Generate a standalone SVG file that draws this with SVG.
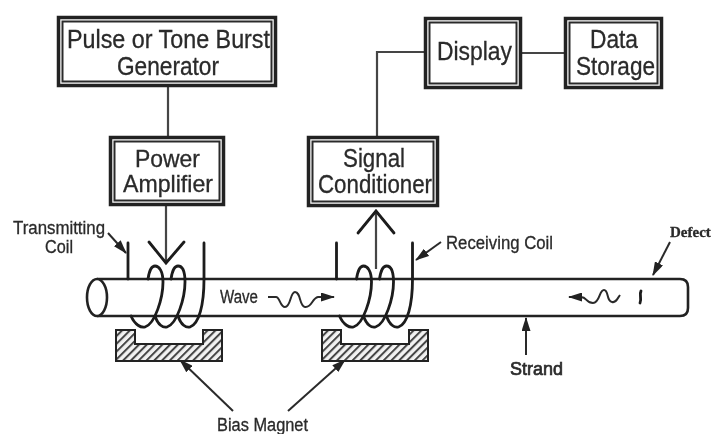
<svg xmlns="http://www.w3.org/2000/svg" width="712" height="434" viewBox="0 0 712 434">
<style>
.o{fill:#fff;stroke:#222;stroke-width:3.500}
.i{fill:#fff;stroke:#2c2c2c;stroke-width:2}
.l{fill:none;stroke:#2a2a2a;stroke-width:2}
.t{fill:none;stroke:#1a1a1a;stroke-width:2.800;stroke-linecap:round}
.g{fill:none;stroke:#444;stroke-width:2.200}
text{font-family:"Liberation Sans",Arial,sans-serif;fill:#2a2a2a;stroke:#2a2a2a;stroke-width:.3;text-anchor:middle}
.b{font-size:25px}
.s{font-size:18px}
.d{font-family:"Liberation Serif","Times New Roman",serif;font-weight:bold;font-size:15px;text-anchor:start}
</style>
<defs>
<filter id="blur" x="-5%" y="-5%" width="110%" height="110%"><feGaussianBlur stdDeviation="0.55"/></filter>
<pattern id="hatch" width="5.500" height="5.500" patternUnits="userSpaceOnUse" patternTransform="rotate(45)">
<rect width="5.500" height="5.500" fill="#f2f2f2"/><rect width="2" height="5.500" fill="#444"/>
</pattern>
<marker id="ah" viewBox="0 0 14 9" refX="13" refY="4.500" markerWidth="14" markerHeight="9" markerUnits="userSpaceOnUse" orient="auto"><path d="M0 0L14 4.500L0 9Z" fill="#222"/></marker>
<g id="coil">
<path class="t" d="M131 316C135 325 141 328 145 327C155 324 163 298 163 282C163 271 159 266 155 266C151 266 149 272 148 279"/>
<path class="t" d="M155 316C158 325 163 328 167 327C177 324 185 298 185 282C185 271 182 266 178 266C174 266 172 272 171 279"/>
<path class="t" d="M178 316C181 325 186 328 190 327C199 324 204 305 204 279L204 243"/>
<path class="t" d="M128 279L128 243"/>
</g>
<g id="magnet"><path fill="url(#hatch)" stroke="#222" stroke-width="2" d="M116 330H135V344H203V330H222V361H116Z"/></g>
</defs>
<rect width="712" height="434" fill="#fff"/>
<g filter="url(#blur)">
<g id="strand">
<path fill="#fff" stroke="#222" stroke-width="2.600" d="M97 279H680Q688 279 688 287V308Q688 316 680 316H97"/>
<ellipse cx="97" cy="297.500" rx="10" ry="18.500" fill="#fff" stroke="#222" stroke-width="2.600"/>
</g>
<g id="connectors">
<path class="g" d="M168 87V136"/>
<path class="g" d="M166 206V262"/>
<path class="t" d="M149 242L166 263L184 242"/>
<path class="g" d="M377 136V52H424"/>
<path class="g" d="M522 53H564"/>
<path class="g" d="M376 269V212"/>
<path class="t" d="M358 233L376 211L394 233"/>
<path class="l" d="M108 233L126 253" marker-end="url(#ah)"/>
<path class="l" d="M441 242L416 260" marker-end="url(#ah)"/>
<path class="l" d="M670 242L653 275" marker-end="url(#ah)"/>
<path class="l" d="M526 355V318" marker-end="url(#ah)"/>
<path class="l" d="M233 411L180 360" marker-end="url(#ah)"/>
<path class="l" d="M288 411L345 360" marker-end="url(#ah)"/>
<path class="l" d="M268 297H276C280 297 280 307 285 307C291 307 290 292 295 292C301 292 299 306 305 307C312 308 312 298 318 297H334" marker-end="url(#ah)"/>
<path class="l" d="M620 295C617 299 616 303 612 302C606 301 609 290 604 290C599 290 600 303 593 303C586 303 587 297 581 297H569" marker-end="url(#ah)"/>
<path class="t" d="M641 291C639 295 642 298 640 303"/>
</g>
<g id="coil-transmitting"><use href="#coil"/></g>
<g id="coil-receiving"><use href="#coil" x="208.500"/></g>
<g id="magnet-1"><use href="#magnet"/></g>
<g id="magnet-2"><use href="#magnet" x="206"/></g>
<g id="pulse"><rect class="o" x="58.500" y="17.500" width="217" height="68"/><rect class="i" x="62.500" y="21.500" width="209" height="60"/>
<text class="b" x="168.500" y="48" textLength="203" lengthAdjust="spacingAndGlyphs">Pulse or Tone Burst</text><text class="b" x="168" y="75" textLength="102" lengthAdjust="spacingAndGlyphs">Generator</text></g>
<g id="amp"><rect class="o" x="110.500" y="137.500" width="113" height="67"/><rect class="i" x="114.500" y="141.500" width="105" height="59"/>
<text class="b" style="font-size:24px" x="167.500" y="167" textLength="65" lengthAdjust="spacingAndGlyphs">Power</text><text class="b" style="font-size:24px" x="168" y="192" textLength="90" lengthAdjust="spacingAndGlyphs">Amplifier</text></g>
<g id="signal"><rect class="o" x="308.500" y="137.500" width="129" height="68"/><rect class="i" x="312.500" y="141.500" width="121" height="60"/>
<text class="b" x="374" y="167" textLength="62" lengthAdjust="spacingAndGlyphs">Signal</text><text class="b" x="375" y="193" textLength="114" lengthAdjust="spacingAndGlyphs">Conditioner</text></g>
<g id="display"><rect class="o" x="425.500" y="18.500" width="95" height="69"/><rect class="i" x="429.500" y="22.500" width="87" height="61"/>
<text class="b" x="474.500" y="60" textLength="75" lengthAdjust="spacingAndGlyphs">Display</text></g>
<g id="storage"><rect class="o" x="565.500" y="18.500" width="96" height="69"/><rect class="i" x="569.500" y="22.500" width="88" height="61"/>
<text class="b" x="614" y="48" textLength="48" lengthAdjust="spacingAndGlyphs">Data</text><text class="b" x="615.500" y="75" textLength="79" lengthAdjust="spacingAndGlyphs">Storage</text></g>
<g id="labels">
<text class="s" x="59" y="234" textLength="92" lengthAdjust="spacingAndGlyphs">Transmitting</text>
<text class="s" x="59" y="253" textLength="28" lengthAdjust="spacingAndGlyphs">Coil</text>
<text class="s" x="499.500" y="249" textLength="107" lengthAdjust="spacingAndGlyphs">Receiving Coil</text>
<text class="s" x="239" y="303" textLength="38" lengthAdjust="spacingAndGlyphs">Wave</text>
<text class="s" x="536.500" y="375" textLength="53" lengthAdjust="spacingAndGlyphs" style="stroke-width:.7">Strand</text>
<text class="s" x="262.500" y="431" textLength="91" lengthAdjust="spacingAndGlyphs">Bias Magnet</text>
<text class="d" x="670" y="237">Defect</text>
</g>
</g>
</svg>
